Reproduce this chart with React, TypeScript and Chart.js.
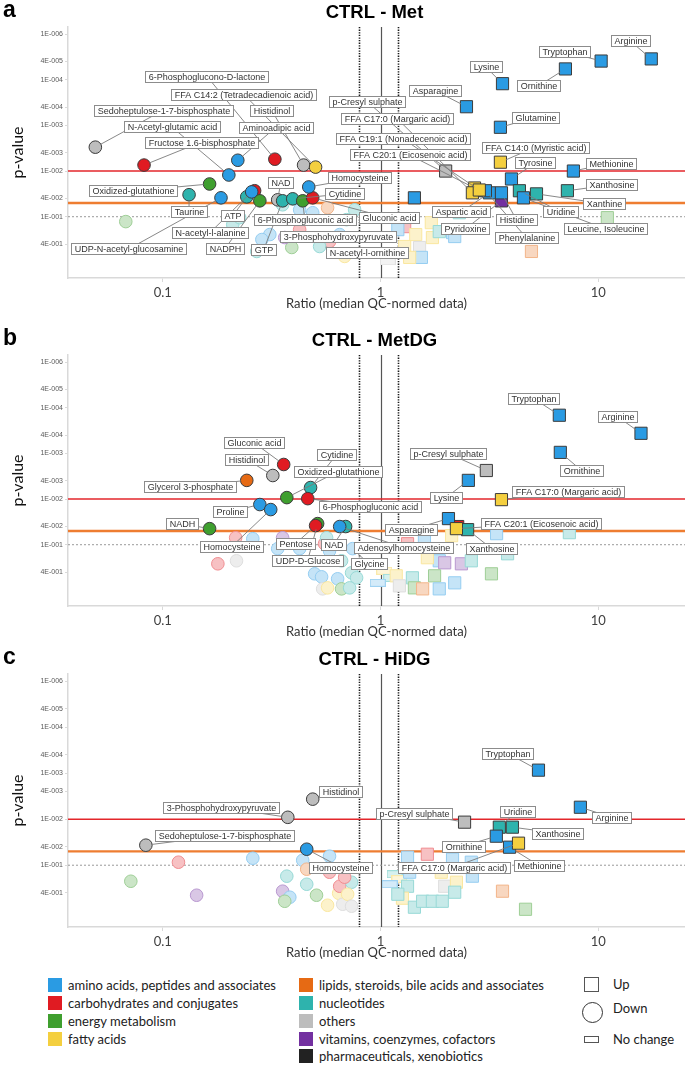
import React, { useEffect, useRef } from 'react';
import { Chart, registerables } from 'chart.js';

Chart.register(...registerables);

// ---------- categories ----------
const CLASS_CODES = ['A', 'C', 'E', 'F', 'L', 'N', 'O', 'V', 'P'];
const CLASS_NAMES = [
  'amino acids, peptides and associates',
  'carbohydrates and conjugates',
  'energy metabolism',
  'fatty acids',
  'lipids, steroids, bile acids and associates',
  'nucleotides',
  'others',
  'vitamins, coenzymes, cofactors',
  'pharmaceuticals, xenobiotics',
];
const CLASS_COLORS = ['#2a9be3', '#e01b22', '#3f9f2f', '#f4cf3f', '#e66a14', '#2eb3ad', '#bdbdbd', '#7330a0', '#222222'];

// ---------- axes ----------
const X_TICKS = [0.1, 1, 10];
const X_TICK_LABELS = ['0.1', '1', '10'];
const Y_TICKS = [1e-5, 4e-5, 1e-4, 4e-4, 1e-3, 4e-3, 1e-2, 4e-2, 1e-1, 4e-1];
const Y_TICKS_C = [1e-5, 4e-5, 1e-4, 4e-4, 1e-3, 2.5e-3, 1e-2, 4e-2, 1e-1, 4e-1];
const Y_TICK_LABELS = ['1E-006', '4E-005', '1E-004', '4E-004', '1E-003', '4E-003', '1E-002', '4E-002', '1E-001', '4E-001'];
const P_RED = 0.01;
const P_ORANGE = 0.05;
const P_DOTTED = 0.1;
const RATIO_DOTTED = [0.8, 1.2];
const RATIO_SOLID = 1;

// ---------- panel a : CTRL - Met ----------
const metName = [
  'Sedoheptulose-1-7-bisphosphate', 'Fructose 1.6-bisphosphate', 'Aminoadipic acid', '6-Phosphoglucono-D-lactone', 'Histidinol',
  'FFA C14:2 (Tetradecadienoic acid)', 'N-Acetyl-glutamic acid', 'Oxidized-glutathione', 'Taurine', 'UDP-N-acetyl-glucosamine',
  'ATP', 'NADPH', 'N-acetyl-l-alanine', 'NAD', 'GTP', 'Cytidine', '6-Phosphogluconic acid', 'Gluconic acid', 'Homocysteine',
  'Arginine', 'Tryptophan', 'Ornithine', 'Lysine', 'Asparagine', 'Glutamine', 'FFA C14:0 (Myristic acid)', 'p-Cresyl sulphate',
  'Tyrosine', 'Methionine', 'Xanthosine', 'Uridine', 'Leucine, Isoleucine', 'Xanthine', 'Pyridoxine', 'Aspartic acid',
  'Phenylalanine', 'Histidine', 'FFA C20:1 (Eicosenoic acid)', 'FFA C17:0 (Margaric acid)', 'FFA C19:1 (Nonadecenoic acid)',
  '3-Phosphohydroxypyruvate', 'N-acetyl-l-ornithine',
];
const metRatio = [
  0.049, 0.082, 0.221, 0.327, 0.443, 0.503, 0.201, 0.164, 0.132, 0.185,
  0.243, 0.279, 0.256, 0.337, 0.355, 0.395, 0.439, 0.488, 0.468,
  17.5, 10.3, 7.06, 3.63, 2.48, 3.55, 3.55, 1.99, 3.99, 7.68, 7.21, 4.34, 4.53, 5.2, 3.59, 3.16, 3.03, 3.59, 2.7, 2.64, 2.84,
  0.363, 0.525,
];
const metP = [
  0.003, 0.0074, 0.0058, 0.0055, 0.0074, 0.0082, 0.0122, 0.0192, 0.033, 0.0386,
  0.0367, 0.0449, 0.0286, 0.0427, 0.0449, 0.0406, 0.0449, 0.0386, 0.0223,
  3.5e-5, 3.9e-5, 5.8e-5, 1.22e-4, 3.9e-4, 1.1e-3, 6.4e-3, 0.01, 0.0149, 0.01, 0.027, 0.027, 0.0386, 0.0316, 0.045, 0.03, 0.027, 0.03, 0.0235, 0.03, 0.026,
  0.286, 0.449,
];
const metCls = [
  'O', 'C', 'A', 'C', 'O', 'F', 'A', 'E', 'N', 'A',
  'N', 'E', 'A', 'O', 'N', 'N', 'E', 'C', 'A',
  'A', 'A', 'A', 'A', 'A', 'A', 'F', 'O', 'A', 'A', 'N', 'N', 'A', 'N', 'V', 'A', 'A', 'A', 'F', 'F', 'F',
  'V', 'N',
];
const metBgRatio = [0.264, 1.43, 0.0676, 0.2095, 0.27, 0.391, 0.488, 0.571, 0.355, 0.425, 0.698, 0.31, 0.425, 0.649, 0.76, 0.684, 0.583, 0.285, 0.2255,
  1.29, 1.71, 1.73, 1.45, 1.29, 2.14, 2.19, 1.51, 1.54, 11.0, 4.93, 2.3, 1.36, 1.2, 1.86];
const metBgP = [0.027, 0.0386, 0.128, 0.149, 0.577, 0.472, 0.0818, 0.0637, 0.0548, 0.0705, 0.116, 0.246, 0.192, 0.246, 0.0705, 0.741, 0.349, 0.316, 0.105,
  0.165, 0.135, 0.286, 0.246, 0.449, 0.223, 0.272, 0.472, 0.778, 0.105, 0.577, 0.0818, 0.778, 0.192, 0.212];
const metBgCls = ['C', 'A', 'E', 'N', 'N', 'E', 'A', 'L', 'N', 'A', 'N', 'A', 'C', 'A', 'N', 'F', 'C', 'A', 'N',
  'C', 'F', 'F', 'F', 'F', 'A', 'A', 'O', 'A', 'E', 'L', 'N', 'F', 'A', 'N'];
const metFlatRatio = [1.08, 1.16, 1.04];
const metFlatP = [0.95, 0.67, 0.55];
const metFlatCls = ['O', 'F', 'N'];

// ---------- panel b : CTRL - MetDG ----------
const mdgName = [
  'Glycerol 3-phosphate', 'Histidinol', 'Gluconic acid', 'Cytidine', 'Oxidized-glutathione', '6-Phosphogluconic acid', 'Proline',
  'Homocysteine', 'NADH', 'UDP-D-Glucose', 'Pentose', 'NAD', 'Adenosylhomocysteine', 'Glycine',
  'Tryptophan', 'Arginine', 'Ornithine', 'p-Cresyl sulphate', 'Lysine', 'FFA C17:0 (Margaric acid)', 'Asparagine', 'Xanthosine',
  'FFA C20:1 (Eicosenoic acid)',
];
const mdgRatio = [0.243, 0.32, 0.359, 0.477, 0.371, 0.463, 0.279, 0.313, 0.164, 0.514, 0.503, 0.691, 0.649, 0.744,
  6.62, 15.7, 6.69, 3.06, 2.53, 3.59, 2.05, 2.51, 2.23];
const mdgP = [0.0039, 0.00305, 0.00175, 0.0056, 0.0093, 0.0098, 0.0132, 0.017, 0.0445, 0.0345, 0.0382, 0.04, 0.04, 0.122,
  1.46e-4, 3.63e-4, 9.5e-4, 2.37e-3, 3.9e-3, 0.0103, 0.0268, 0.0468, 0.0445];
const mdgCls = ['L', 'O', 'C', 'N', 'E', 'C', 'A', 'A', 'E', 'E', 'C', 'N', 'A', 'A',
  'A', 'A', 'A', 'O', 'A', 'F', 'A', 'N', 'F'];
const mdgBgRatio = [2.26, 0.216, 0.259, 0.179, 0.218, 0.355, 0.337, 0.553, 0.565, 0.498, 0.536, 0.635, 0.736, 0.776, 0.542, 0.571, 0.662, 0.721, 0.583, 0.425, 0.662,
  1.33, 1.59, 2.12, 3.41, 7.36, 1.86, 1.97, 2.35, 2.61, 3.83, 1.4, 1.77, 2.19, 3.23, 1.64, 1.18, 1.22, 1.43, 1.56, 1.86];
const mdgBgP = [0.04, 0.0702, 0.0738, 0.262, 0.225, 0.0702, 0.122, 0.095, 0.0702, 0.434, 0.505, 0.558, 0.412, 0.531, 0.927, 0.881, 0.927, 0.881, 0.136, 0.122, 0.225,
  0.095, 0.0702, 0.0634, 0.0573, 0.0545, 0.225, 0.249, 0.262, 0.225, 0.158, 0.531, 0.48, 0.684, 0.434, 0.193, 0.48, 0.796, 0.881, 0.927, 0.927];
const mdgBgCls = ['C', 'C', 'A', 'C', 'O', 'V', 'A', 'C', 'N', 'A', 'A', 'A', 'N', 'N', 'O', 'F', 'E', 'N', 'A', 'A', 'N',
  'C', 'A', 'F', 'A', 'N', 'A', 'V', 'V', 'N', 'N', 'N', 'E', 'A', 'E', 'F', 'F', 'O', 'E', 'L', 'A'];
const mdgFlatRatio = [1.04, 1.12, 0.97];
const mdgFlatP = [0.372, 0.531, 0.684];
const mdgFlatCls = ['F', 'N', 'A'];

// ---------- panel c : CTRL - HiDG ----------
const hdgName = [
  'Histidinol', '3-Phosphohydroxypyruvate', 'Sedoheptulose-1-7-bisphosphate', 'Homocysteine',
  'Tryptophan', 'Arginine', 'p-Cresyl sulphate', 'Uridine', 'Xanthosine', 'Ornithine', 'Methionine', 'FFA C17:0 (Margaric acid)',
];
const hdgRatio = [0.488, 0.375, 0.0836, 0.458, 5.31, 8.27, 2.43, 3.51, 4.03, 3.4, 3.91, 4.3];
const hdgP = [0.00367, 0.0091, 0.0367, 0.0449, 8.6e-4, 5.5e-3, 0.0116, 0.0149, 0.0149, 0.0234, 0.0406, 0.0332];
const hdgCls = ['O', 'O', 'O', 'A', 'A', 'A', 'O', 'N', 'N', 'A', 'A', 'F'];
const hdgBgRatio = [0.439, 0.118, 0.259, 0.583, 0.458, 0.583, 0.371, 0.0713, 0.458, 0.355, 0.383, 0.363, 0.143, 0.508, 0.571, 0.642, 0.649, 0.67, 0.736, 0.706, 0.736, 0.684,
  1.64, 1.33, 1.36, 2.14, 2.61, 2.64, 1.9, 1.97, 2.23, 2.19, 1.33, 1.26, 1.2, 1.43, 1.56, 1.73, 1.92, 3.63, 4.63];
const hdgBgP = [0.078, 0.086, 0.0705, 0.0637, 0.122, 0.142, 0.173, 0.223, 0.259, 0.367, 0.496, 0.607, 0.449, 0.449, 0.741, 0.407, 0.286, 0.705, 0.234, 0.427, 0.778, 0.182,
  0.0577, 0.067, 0.142, 0.074, 0.086, 0.173, 0.142, 0.286, 0.234, 0.386, 0.286, 0.521, 0.427, 0.818, 0.607, 0.607, 0.607, 0.367, 0.906];
const hdgBgCls = ['A', 'C', 'A', 'A', 'L', 'C', 'N', 'E', 'N', 'V', 'A', 'E', 'V', 'E', 'F', 'F', 'C', 'O', 'N', 'F', 'O', 'C',
  'C', 'A', 'A', 'A', 'A', 'A', 'F', 'O', 'F', 'N', 'N', 'F', 'N', 'N', 'N', 'N', 'N', 'L', 'E'];
const hdgFlatRatio = [1.16, 1.22, 1.1];
const hdgFlatP = [0.157, 0.2, 0.259];
const hdgFlatCls = ['N', 'F', 'A'];

// ---------- label placement (pixel offsets of callout boxes from their point) ----------
const metLabels: [string, number, number][] = [
  ['Sedoheptulose-1-7-bisphosphate', 68, -37], ['Fructose 1.6-bisphosphate', 57, -23], ['Aminoadipic acid', 38, -33],
  ['6-Phosphoglucono-D-lactone', -68, -83], ['Histidinol', -32, -55], ['FFA C14:2 (Tetradecadienoic acid)', -72, -73],
  ['N-Acetyl-glutamic acid', -57, -48], ['Oxidized-glutathione', -77, 7], ['Taurine', 0, 17], ['UDP-N-acetyl-glucosamine', -92, 51],
  ['N-acetyl-l-alanine', -42, 41], ['ATP', -14, 19], ['NADPH', -35, 48], ['NAD', 3, -17], ['GTP', -19, 49], ['Cytidine', 52, -5],
  ['6-Phosphogluconic acid', 2, 19], ['Gluconic acid', 76, 20], ['Homocysteine', 51, -9], ['3-Phosphohydroxypyruvate', 53, -1],
  ['N-acetyl-l-ornithine', 47, 6], ['Arginine', -21, -18], ['Tryptophan', -37, -10], ['Ornithine', -27, 17], ['Lysine', -17, -17],
  ['Asparagine', -31, -16], ['Glutamine', 35, -10], ['FFA C14:0 (Myristic acid)', 35, -15], ['p-Cresyl sulphate', -79, -70],
  ['Tyrosine', 24, -16], ['Methionine', 38, -8], ['Xanthosine', 44, -6], ['Xanthine', 68, 10], ['Uridine', 41, 21],
  ['Leucine, Isoleucine', 82, 31], ['FFA C17:0 (Margaric acid)', -75, -74], ['FFA C19:1 (Nonadecenoic acid)', -76, -51],
  ['FFA C20:1 (Eicosenoic acid)', -65, -33], ['Aspartic acid', -28, 19], ['Phenylalanine', 41, 47], ['Histidine', 15, 27],
  ['Pyridoxine', -36, 28],
];
const mdgLabels: [string, number, number][] = [
  ['Gluconic acid', -30, -22], ['Histidinol', -26, -16], ['Glycerol 3-phosphate', -57, 6], ['Cytidine', 26, -33],
  ['Oxidized-glutathione', 51, -26], ['6-Phosphogluconic acid', 62, 8], ['Proline', -30, 7], ['Homocysteine', -39, 37],
  ['NADH', -28, -5], ['Pentose', -20, 18], ['UDP-D-Glucose', -10, 37], ['Adenosylhomocysteine', 64, 21], ['NAD', -12, 18],
  ['Glycine', 16, 15], ['Tryptophan', -26, -17], ['Arginine', -24, -17], ['Ornithine', 21, 18], ['p-Cresyl sulphate', -38, -17],
  ['Lysine', -22, 17], ['FFA C17:0 (Margaric acid)', 67, -8], ['Asparagine', -37, 11], ['FFA C20:1 (Eicosenoic acid)', 85, -5],
  ['Xanthosine', 24, 19],
];
const hdgLabels: [string, number, number][] = [
  ['Histidinol', 28, -8], ['3-Phosphohydroxypyruvate', -67, -10], ['Sedoheptulose-1-7-bisphosphate', 79, -10],
  ['Homocysteine', 34, 18], ['Tryptophan', -31, -17], ['Arginine', 31, 10], ['p-Cresyl sulphate', -51, -9],
  ['Uridine', 18, -16], ['Xanthosine', 45, 6], ['Ornithine', -33, 10], ['Methionine', 29, 18], ['FFA C17:0 (Margaric acid)', -65, 24],
];

const PANELS = [
  { letter: 'a', title: 'CTRL - Met', top: 0, padTop: 27, yTicks: Y_TICKS, name: metName, ratio: metRatio, p: metP, cls: metCls,
    bgR: metBgRatio, bgP: metBgP, bgC: metBgCls, flR: metFlatRatio, flP: metFlatP, flC: metFlatCls, labels: metLabels },
  { letter: 'b', title: 'CTRL - MetDG', top: 328, padTop: 27, yTicks: Y_TICKS, name: mdgName, ratio: mdgRatio, p: mdgP, cls: mdgCls,
    bgR: mdgBgRatio, bgP: mdgBgP, bgC: mdgBgCls, flR: mdgFlatRatio, flP: mdgFlatP, flC: mdgFlatCls, labels: mdgLabels },
  { letter: 'c', title: 'CTRL - HiDG', top: 649, padTop: 25, yTicks: Y_TICKS_C, name: hdgName, ratio: hdgRatio, p: hdgP, cls: hdgCls,
    bgR: hdgBgRatio, bgP: hdgBgP, bgC: hdgBgCls, flR: hdgFlatRatio, flP: hdgFlatP, flC: hdgFlatCls, labels: hdgLabels },
];

const CANVAS_H = 318;
const LABEL_FONT = "9px 'Liberation Sans', Arial, sans-serif";

function mix(hex: string, t: number) {
  const n = parseInt(hex.slice(1), 16);
  const r = (n >> 16) & 255, g = (n >> 8) & 255, b = n & 255;
  const f = (c: number) => Math.round(255 - (255 - c) * t);
  return `rgb(${f(r)},${f(g)},${f(b)})`;
}
function colorOf(code: string) {
  return CLASS_COLORS[CLASS_CODES.indexOf(code)];
}

const flatCache: Record<string, HTMLCanvasElement> = {};
function flatIcon(code: string) {
  if (flatCache[code]) return flatCache[code];
  const c = document.createElement('canvas');
  c.width = 16; c.height = 8;
  const g = c.getContext('2d')!;
  g.fillStyle = mix(colorOf(code), 0.2);
  g.fillRect(0.5, 0.5, 15, 7);
  g.strokeStyle = mix(colorOf(code), 0.45);
  g.lineWidth = 1;
  g.strokeRect(0.5, 0.5, 15, 7);
  flatCache[code] = c;
  return c;
}

function makeChart(canvas: HTMLCanvasElement, panel: any) {
  const pts: any[] = [];
  panel.bgR.forEach((r: number, i: number) => pts.push({ x: r, y: panel.bgP[i], c: panel.bgC[i], name: '' }));
  panel.name.forEach((n: string, i: number) => pts.push({ x: panel.ratio[i], y: panel.p[i], c: panel.cls[i], name: n }));
  const sig = pts.filter((d) => d.y < P_ORANGE);
  const faded = pts.filter((d) => d.y >= P_ORANGE);
  const ds = (arr: any[], fade: boolean, order: number) => ({
    data: arr,
    order,
    pointStyle: arr.map((d) => (d.x < 1 ? 'circle' : 'rect')),
    pointRadius: arr.map((d) => (d.x < 1 ? 6.3 : 8.6)),
    pointHoverRadius: arr.map((d) => (d.x < 1 ? 6.3 : 8.6)),
    backgroundColor: arr.map((d) => (fade ? mix(colorOf(d.c), 0.27) : colorOf(d.c))),
    borderColor: arr.map((d) => (fade ? mix(colorOf(d.c), 0.5) : '#3c3c3c')),
    borderWidth: 1,
  });
  const flat = panel.flR.map((r: number, i: number) => ({ x: r, y: panel.flP[i], c: panel.flC[i], name: '' }));
  const labelMap = new Map<string, [number, number]>();
  panel.labels.forEach((l: any) => labelMap.set(l[0], [l[1], l[2]]));

  const linesPlugin = {
    id: 'refLines',
    beforeDatasetsDraw(chart: any) {
      const { ctx, chartArea } = chart;
      const xs = chart.scales.x, ys = chart.scales.y;
      ctx.save();
      const hline = (p: number, color: string, w: number, dash: number[]) => {
        const y = ys.getPixelForValue(p);
        ctx.beginPath(); ctx.setLineDash(dash); ctx.strokeStyle = color; ctx.lineWidth = w;
        ctx.moveTo(chartArea.left, y); ctx.lineTo(chartArea.right, y); ctx.stroke();
      };
      const vline = (r: number, color: string, w: number, dash: number[]) => {
        const x = Math.round(xs.getPixelForValue(r)) + 0.5;
        ctx.beginPath(); ctx.setLineDash(dash); ctx.strokeStyle = color; ctx.lineWidth = w;
        ctx.moveTo(x, chartArea.top); ctx.lineTo(x, chartArea.bottom); ctx.stroke();
      };
      vline(RATIO_SOLID, '#555555', 1.2, []);
      RATIO_DOTTED.forEach((r) => vline(r, '#1a1a1a', 1.6, [1.3, 1.3]));
      hline(P_DOTTED, '#9a9a9a', 1, [2, 2]);
      hline(P_RED, '#e3262b', 1.6, []);
      hline(P_ORANGE, '#ee7d31', 2.4, []);
      ctx.restore();
    },
  };

  const labelPlugin = {
    id: 'callouts',
    afterDatasetsDraw(chart: any) {
      const ctx = chart.ctx;
      const items: any[] = [];
      chart.data.datasets.forEach((d: any, di: number) => {
        const meta = chart.getDatasetMeta(di);
        d.data.forEach((pt: any, i: number) => {
          if (!pt.name || !labelMap.has(pt.name)) return;
          const el = meta.data[i];
          const off = labelMap.get(pt.name)!;
          items.push({ text: pt.name, px: el.x, py: el.y, lx: el.x + off[0], ly: el.y + off[1] });
        });
      });
      ctx.save();
      ctx.font = LABEL_FONT;
      ctx.strokeStyle = '#7a7a7a';
      ctx.lineWidth = 0.9;
      items.forEach((it) => {
        const dx = it.lx - it.px, dy = it.ly - it.py;
        const d = Math.hypot(dx, dy) || 1;
        ctx.beginPath();
        ctx.moveTo(it.px + (dx / d) * 6, it.py + (dy / d) * 6);
        ctx.lineTo(it.lx, it.ly);
        ctx.stroke();
      });
      items.forEach((it) => {
        const w = Math.round(ctx.measureText(it.text).width + 6);
        const h = 11;
        const x0 = Math.round(it.lx - w / 2) + 0.5, y0 = Math.round(it.ly - h / 2) + 0.5;
        ctx.fillStyle = '#ffffff';
        ctx.fillRect(x0, y0, w, h);
        ctx.strokeStyle = '#8c8c8c';
        ctx.lineWidth = 1;
        ctx.strokeRect(x0, y0, w, h);
        ctx.fillStyle = '#333333';
        ctx.textAlign = 'center';
        ctx.textBaseline = 'middle';
        ctx.fillText(it.text, x0 + w / 2, y0 + h / 2 + 0.5);
      });
      ctx.restore();
    },
  };

  const titlePlugin = {
    id: 'panelTitle',
    afterDraw(chart: any) {
      const { ctx, chartArea } = chart;
      ctx.save();
      ctx.fillStyle = '#000';
      ctx.textBaseline = 'middle';
      ctx.textAlign = 'center';
      ctx.font = "bold 18.5px 'Liberation Sans', Arial, sans-serif";
      ctx.fillText(panel.title, (chartArea.left + chartArea.right) / 2 - 2, panel.padTop - 14);
      ctx.textAlign = 'left';
      ctx.font = "bold 23px 'Liberation Sans', Arial, sans-serif";
      ctx.fillText(panel.letter, 3, panel.padTop - 16);
      ctx.restore();
    },
  };

  return new Chart(canvas, {
    type: 'scatter',
    data: {
      datasets: [
        ds(sig, false, 0),
        ds(faded, true, 1),
        {
          data: flat,
          order: 2,
          pointStyle: flat.map((d: any) => flatIcon(d.c)),
          pointRadius: 5,
          backgroundColor: 'transparent',
          borderColor: 'transparent',
        },
      ],
    },
    options: {
      responsive: false,
      animation: false,
      events: [],
      layout: { autoPadding: false, padding: { top: panel.padTop, left: 0, right: 0, bottom: 0 } },
      plugins: { legend: { display: false }, tooltip: { enabled: false } },
      scales: {
        x: {
          type: 'logarithmic',
          min: 0.0367,
          max: 25,
          afterBuildTicks: (s: any) => { s.ticks = X_TICKS.map((v) => ({ value: v })); },
          afterFit: (s: any) => { s.height = 40; s.paddingLeft = 0; s.paddingRight = 0; },
          ticks: {
            callback: (_v: any, i: number) => X_TICK_LABELS[i],
            font: { family: 'Lato', size: 13 },
            color: '#404040',
            padding: 3,
            maxRotation: 0,
            autoSkip: false,
          },
          grid: { drawOnChartArea: false, drawTicks: true, tickLength: 4, color: '#d9d9d9' },
          border: { color: '#d9d9d9', width: 1.5 },
          title: {
            display: true,
            text: 'Ratio (median QC-normed data)',
            font: { family: 'Lato', size: 13 },
            color: '#333333',
            padding: { top: 0, bottom: 6 },
          },
        },
        y: {
          type: 'logarithmic',
          reverse: true,
          min: 7e-6,
          max: 2.2,
          afterBuildTicks: (s: any) => { s.ticks = panel.yTicks.map((v: number) => ({ value: v })); },
          afterFit: (s: any) => { s.width = 68; s.paddingTop = 0; s.paddingBottom = 0; },
          ticks: {
            callback: (_v: any, i: number) => Y_TICK_LABELS[i],
            font: { family: "'Liberation Sans', Arial", size: 7 },
            color: '#595959',
            padding: 2,
            autoSkip: false,
          },
          grid: { drawOnChartArea: false, drawTicks: true, tickLength: 3, color: '#d9d9d9' },
          border: { color: '#d9d9d9', width: 1.5 },
          title: {
            display: true,
            text: 'p-value',
            font: { family: 'Lato', size: 16 },
            color: '#111111',
            padding: { top: 8, bottom: 0 },
          },
        },
      },
    } as any,
    plugins: [linesPlugin, labelPlugin, titlePlugin],
  } as any);
}

const LEGEND_ROWS = [985, 1003, 1021, 1039, 1056];
const legendText: React.CSSProperties = {
  position: 'absolute',
  fontFamily: 'Lato, sans-serif',
  fontSize: 13,
  lineHeight: '16px',
  height: 16,
  color: '#222',
  whiteSpace: 'nowrap',
};

export default function App() {
  const ra = useRef<HTMLCanvasElement>(null);
  const rb = useRef<HTMLCanvasElement>(null);
  const rc = useRef<HTMLCanvasElement>(null);

  useEffect(() => {
    const refs = [ra, rb, rc];
    const charts = PANELS.map((p, i) => makeChart(refs[i].current!, p));
    return () => charts.forEach((c) => c.destroy());
  }, []);

  const refs = [ra, rb, rc];
  return (
    <div style={{ position: 'absolute', left: 0, top: 0, width: 685, height: 1065, background: '#fff', overflow: 'hidden' }}>
      {PANELS.map((p, i) => (
        <canvas
          key={p.letter}
          ref={refs[i]}
          width={685}
          height={CANVAS_H}
          style={{ position: 'absolute', left: 0, top: p.top, width: 685, height: CANVAS_H }}
        />
      ))}
      {CLASS_NAMES.map((n, i) => {
        const col = i < 4 ? 0 : 1;
        const row = i < 4 ? i : i - 4;
        const cy = LEGEND_ROWS[row];
        const sx = col === 0 ? 48 : 299;
        return (
          <React.Fragment key={n}>
            <div
              style={{
                position: 'absolute', left: sx, top: cy - 7, width: 14, height: 14, boxSizing: 'border-box',
                background: CLASS_COLORS[i], border: `1px solid ${CLASS_COLORS[i]}`,
              }}
            />
            <div style={{ ...legendText, left: sx + 20, top: cy - 8 }}>{n}</div>
          </React.Fragment>
        );
      })}
      <div style={{ position: 'absolute', left: 584, top: 977, width: 15, height: 15, boxSizing: 'border-box', border: '1px solid #555' }} />
      <div style={{ ...legendText, left: 613, top: 976 }}>Up</div>
      <div style={{ position: 'absolute', left: 582, top: 1002, width: 21, height: 21, boxSizing: 'border-box', border: '1px solid #333', borderRadius: '50%' }} />
      <div style={{ ...legendText, left: 613, top: 1000 }}>Down</div>
      <div style={{ position: 'absolute', left: 584, top: 1036, width: 15, height: 7, boxSizing: 'border-box', border: '1px solid #555' }} />
      <div style={{ ...legendText, left: 613, top: 1031 }}>No change</div>
    </div>
  );
}
